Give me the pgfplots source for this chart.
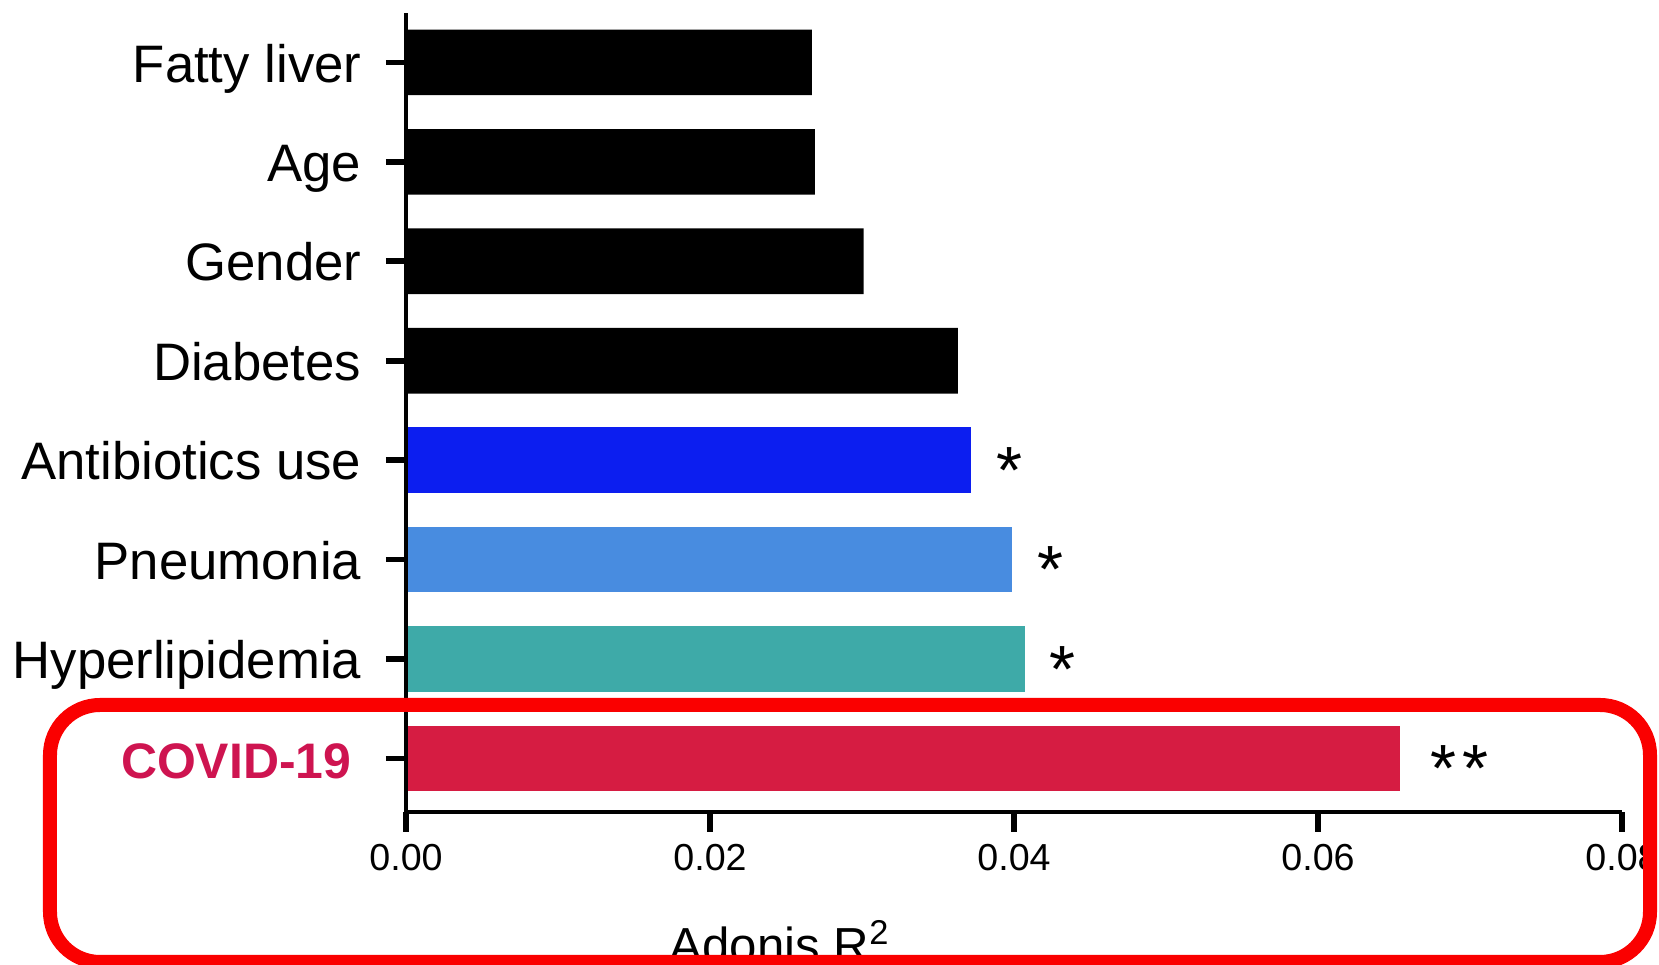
\documentclass[border=0pt]{standalone}
\usepackage{pgfplots}
\pgfplotsset{compat=1.18}
\usepackage{fontspec}
\setmainfont{Liberation Sans}
\definecolor{abxblue}{RGB}{12,30,240}
\definecolor{pneublue}{RGB}{72,140,224}
\definecolor{hyperteal}{RGB}{62,170,168}
\definecolor{covidbar}{RGB}{214,28,66}
\definecolor{covidtext}{RGB}{206,20,80}
\definecolor{boxred}{RGB}{250,0,0}
\begin{document}
\begin{tikzpicture}
\useasboundingbox (-40.6mm,-15.3mm) rectangle (125.3mm,81.2mm);
\begin{axis}[
  at={(0mm,0mm)}, anchor=south west,
  scale only axis, width=121.6mm, height=79.9mm,
  xmin=0, xmax=0.08, ymin=-0.537, ymax=7.497,
  axis lines*=left,
  axis line style={line width=1.4pt, -},
  axis on top,
  clip=false,
  xtick={0,0.02,0.04,0.06,0.08},
  ytick={0,1,2,3,4,5,6,7},
  yticklabels={{\fontsize{14.2}{17}\selectfont\bfseries\color{covidtext}COVID-19\kern1mm},Hyperlipidemia,Pneumonia,Antibiotics use,Diabetes,Gender,Age,Fatty liver},
  tick align=outside,
  major tick length=2mm,
  tick style={line width=1.6pt, black},
  scaled x ticks=false,
  xticklabel style={font=\fontsize{10.7}{12}\selectfont, /pgf/number format/.cd, fixed, fixed zerofill, precision=2, assume math mode=true},
  yticklabel style={font=\fontsize{15}{18}\selectfont, inner sep=0pt, anchor=east, xshift=-2.4mm, yshift=-0.7mm, text height=0.72em, text depth=0em},
  xbar, bar width=0.66, bar shift=0pt,
]
\addplot[fill=covidbar, draw=none] coordinates {(0.0654,0)};
\addplot[fill=hyperteal, draw=none] coordinates {(0.0407,1)};
\addplot[fill=pneublue, draw=none] coordinates {(0.0399,2)};
\addplot[fill=abxblue, draw=none] coordinates {(0.0372,3)};
\addplot[fill=black, draw=none] coordinates {(0.0363,4) (0.0301,5) (0.0269,6) (0.0267,7)};
\node[anchor=base west, inner sep=0pt, xshift=2.4mm, yshift=-3.3mm, font=\fontsize{19}{19}\selectfont] at (axis cs:0.0372,3) {*};
\node[anchor=base west, inner sep=0pt, xshift=2.4mm, yshift=-3.3mm, font=\fontsize{19}{19}\selectfont] at (axis cs:0.0399,2) {*};
\node[anchor=base west, inner sep=0pt, xshift=2.4mm, yshift=-3.3mm, font=\fontsize{19}{19}\selectfont] at (axis cs:0.0407,1) {*};
\node[anchor=base west, inner sep=0pt, xshift=3.0mm, yshift=-3.3mm, font=\fontsize{19}{19}\selectfont] at (axis cs:0.0654,0) {*\kern0.6mm*};
\end{axis}
\node[anchor=base, inner sep=0pt, font=\fontsize{14}{16}\selectfont] at (37.4mm,-15.1mm) {Adonis R\textsuperscript{2}};
\draw[boxred, line width=1.4mm, rounded corners=5mm] (-35.6mm,-15.0mm) rectangle (124.4mm,10.7mm);
\end{tikzpicture}
\end{document}
